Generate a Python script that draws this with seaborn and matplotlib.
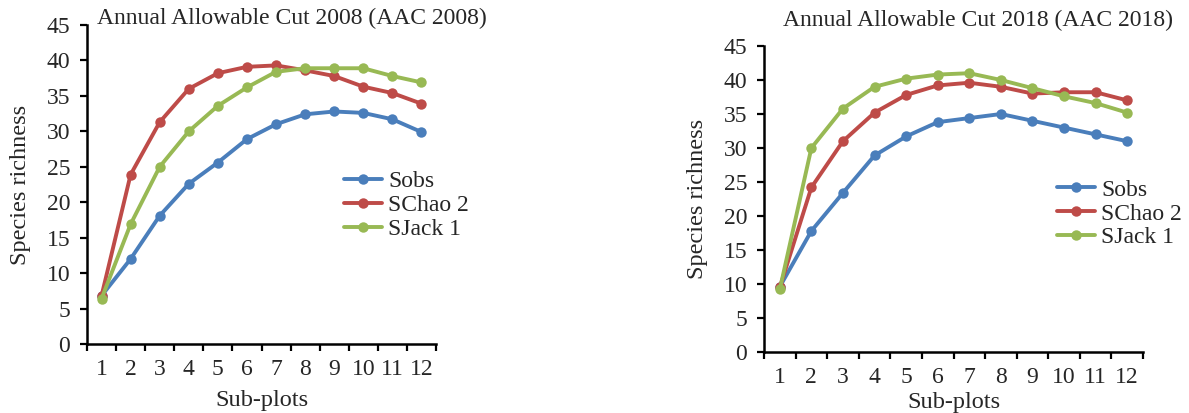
import matplotlib
matplotlib.use("Agg")
import matplotlib.pyplot as plt
import seaborn as sns
import pandas as pd
import numpy as np

sub_plots = list(range(1, 13))
series_names = ["Sobs", "SChao 2", "SJack 1"]

# AAC 2008
sobs_2008 = [6.8, 12.0, 18.1, 22.6, 25.6, 28.9, 31.0, 32.4, 32.8, 32.6, 31.7, 29.9]
schao_2008 = [6.8, 23.9, 31.3, 36.0, 38.2, 39.1, 39.3, 38.6, 37.8, 36.3, 35.4, 33.9]
sjack_2008 = [6.4, 16.9, 25.0, 30.0, 33.6, 36.2, 38.4, 38.9, 38.9, 38.9, 37.8, 36.9]

# AAC 2018
sobs_2018 = [9.6, 17.8, 23.4, 28.9, 31.7, 33.8, 34.4, 35.0, 34.0, 33.0, 32.0, 31.0]
schao_2018 = [9.5, 24.2, 31.0, 35.2, 37.8, 39.2, 39.6, 39.0, 38.0, 38.2, 38.2, 37.0]
sjack_2018 = [9.2, 30.0, 35.8, 39.0, 40.2, 40.8, 41.0, 40.0, 38.8, 37.6, 36.6, 35.2]

titles = ["Annual Allowable Cut 2008 (AAC 2008)", "Annual Allowable Cut 2018 (AAC 2018)"]
colors = ["#4a7ebb", "#be4b48", "#98b954"]


def long_frame(sobs, schao, sjack):
    rows = []
    for name, vals in zip(series_names, [sobs, schao, sjack]):
        for x, v in zip(sub_plots, vals):
            rows.append({"Sub-plots": x, "Species richness": v, "Series": name})
    return pd.DataFrame(rows)


sns.set_theme(style="white")
plt.rcParams["font.family"] = ["Liberation Serif", "DejaVu Serif"]

fig = plt.figure(figsize=(11.89, 4.13), dpi=100)
ax1 = fig.add_axes([87 / 1189, 1 - 344 / 413, (436 - 87) / 1189, (344 - 25) / 413])
ax2 = fig.add_axes([764 / 1189, 1 - 352 / 413, (1143 - 764) / 1189, (352 - 46) / 413])

frames = [long_frame(sobs_2008, schao_2008, sjack_2008),
          long_frame(sobs_2018, schao_2018, sjack_2018)]
legend_pos = [(0.737, 0.543), (0.774, 0.565)]
title_pos = [(97 / 1189, 1 - 18 / 413, "left"), (978 / 1189, 1 - 20 / 413, "center")]
xlabel_pads = [7, 3]

for ax, df, title, lp, tp, xlp in zip([ax1, ax2], frames, titles, legend_pos,
                                      title_pos, xlabel_pads):
    sns.lineplot(data=df, x="Sub-plots", y="Species richness", hue="Series",
                 hue_order=series_names, palette=colors, marker="o",
                 markersize=7.5, markeredgewidth=0, linewidth=2.8, ax=ax)
    ax.set_xlim(0.5, 12.5)
    ax.set_ylim(0, 45)
    ax.set_yticks(np.arange(0, 46, 5))
    ax.set_xticks(sub_plots)
    ax.set_xticks(np.arange(0.5, 12.6, 1.0), minor=True)
    ax.tick_params(axis="x", which="major", length=0, pad=11, labelsize=17)
    ax.tick_params(axis="x", which="minor", length=5, width=1.6, direction="out",
                   color="black", bottom=True)
    ax.tick_params(axis="y", which="major", length=5, width=1.6, direction="out",
                   color="black", left=True, labelsize=17, pad=7)
    for side in ["top", "right"]:
        ax.spines[side].set_visible(False)
    for side in ["left", "bottom"]:
        ax.spines[side].set_color("black")
        ax.spines[side].set_linewidth(1.8)
    ax.set_xlabel("Sub-plots", fontsize=17.5, labelpad=xlp)
    ax.set_ylabel("Species richness", fontsize=17.5, labelpad=11)
    ax.grid(False)
    fig.text(tp[0], tp[1], title, ha=tp[2], va="center", fontsize=17)
    leg = ax.legend(loc="upper left", bbox_to_anchor=lp, frameon=False, fontsize=17,
                    handlelength=1.6, handletextpad=0.25, labelspacing=0.1,
                    borderaxespad=0, borderpad=0)
    for h in leg.legend_handles:
        h.set_linewidth(2.8)

fig.savefig("out.png", dpi=100)
